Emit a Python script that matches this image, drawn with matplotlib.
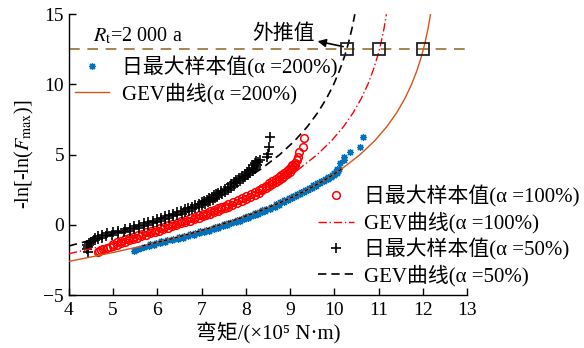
import matplotlib
matplotlib.use('Agg')
import matplotlib.pyplot as plt
import numpy as np

plt.rcParams['font.family'] = ['Liberation Serif', 'Noto Sans CJK SC', 'DejaVu Sans']
plt.rcParams['mathtext.fontset'] = 'stix'
plt.rcParams['axes.unicode_minus'] = True

# daily maximum bending moment samples (x 1e5 N*m) vs reduced variate -ln(-ln F)
moment_50 = [4.43, 4.41, 4.44, 4.42, 4.46, 4.50, 4.55,
             4.59, 4.66, 4.74, 4.84, 4.98, 5.10, 5.24, 5.37, 5.48, 5.58,
             5.69, 5.79, 5.89, 5.99, 6.08, 6.17, 6.26, 6.36, 6.45, 6.55,
             6.63, 6.71, 6.79, 6.86, 6.94, 7.01, 7.08, 7.14, 7.19, 7.25,
             7.30, 7.35, 7.40, 7.45, 7.53, 7.60, 7.67, 7.74, 7.80, 7.86,
             7.93, 7.99, 8.05, 8.10, 8.15, 8.20, 8.23, 8.26, 8.28,
             8.31, 8.47, 8.51, 8.53, 8.55,
             4.58, 4.65, 4.74, 4.86, 4.99, 5.12, 5.26, 5.38, 5.48, 5.59,
             5.69, 5.79, 5.89, 5.99, 6.08, 6.17, 6.26, 6.36, 6.45, 6.54,
             6.62, 6.70, 6.78, 6.85, 6.93, 7.00, 7.06, 7.12, 7.17, 7.23,
             7.28, 7.33, 7.38, 7.44, 7.52, 7.59, 7.66, 7.72, 7.78, 7.85,
             7.91, 7.97, 8.03, 8.08, 8.13, 8.17, 8.20, 8.22]
reduced_50 = [-1.90, -1.70, -1.55, -1.40, -1.30, -1.20, -1.12,
              -1.10, -1.00, -0.90, -0.80, -0.70, -0.60, -0.50, -0.40, -0.30, -0.20,
              -0.10, 0.00, 0.10, 0.20, 0.30, 0.40, 0.50, 0.60, 0.70, 0.80,
              0.90, 1.00, 1.10, 1.20, 1.30, 1.40, 1.50, 1.60, 1.70, 1.80,
              1.90, 2.00, 2.10, 2.20, 2.35, 2.50, 2.65, 2.80, 2.95, 3.10,
              3.25, 3.40, 3.55, 3.70, 3.85, 4.00, 4.15, 4.30, 4.45,
              4.62, 4.85, 5.02, 5.57, 6.28,
              -0.90, -0.80, -0.70, -0.60, -0.50, -0.40, -0.30, -0.20, -0.10, 0.00,
              0.10, 0.20, 0.30, 0.40, 0.50, 0.60, 0.70, 0.80, 0.90, 1.00,
              1.10, 1.20, 1.30, 1.40, 1.50, 1.60, 1.70, 1.80, 1.90, 2.00,
              2.10, 2.20, 2.30, 2.43, 2.58, 2.73, 2.88, 3.03, 3.18, 3.33,
              3.48, 3.63, 3.78, 3.93, 4.08, 4.23, 4.38, 4.53]

moment_100 = [4.65, 4.68, 4.72, 4.78, 4.85, 4.92,
              5.00, 5.08, 5.17, 5.26, 5.35, 5.44, 5.54, 5.64, 5.74, 5.84,
              5.94, 6.04, 6.13, 6.23, 6.33, 6.43, 6.53, 6.63, 6.73, 6.83,
              6.93, 7.02, 7.10, 7.19, 7.27, 7.36, 7.44, 7.52, 7.60, 7.68,
              7.79, 7.90, 8.00, 8.10, 8.20, 8.29, 8.37, 8.45, 8.53, 8.60,
              8.67, 8.74, 8.81, 8.87, 8.93, 8.99, 9.04, 9.08, 9.10,
              9.11, 9.15, 9.17, 9.19, 9.29, 9.32,
              5.00, 5.09, 5.18, 5.27, 5.36, 5.45, 5.55, 5.65, 5.75, 5.85,
              5.95, 6.05, 6.14, 6.24, 6.34, 6.44, 6.54, 6.64, 6.74, 6.84,
              6.94, 7.02, 7.11, 7.19, 7.28, 7.36, 7.44, 7.52, 7.60, 7.70,
              7.81, 7.91, 8.01, 8.11, 8.21, 8.29, 8.37, 8.45, 8.53, 8.60,
              8.67, 8.74, 8.80, 8.86, 8.92, 8.98, 9.02, 9.05]
reduced_100 = [-1.95, -1.85, -1.78, -1.72, -1.65, -1.58,
               -1.50, -1.40, -1.30, -1.20, -1.10, -1.00, -0.90, -0.80, -0.70, -0.60,
               -0.50, -0.40, -0.30, -0.20, -0.10, 0.00, 0.10, 0.20, 0.30, 0.40,
               0.50, 0.60, 0.70, 0.80, 0.90, 1.00, 1.10, 1.20, 1.30, 1.40,
               1.55, 1.70, 1.85, 2.00, 2.15, 2.30, 2.45, 2.60, 2.75, 2.90,
               3.05, 3.20, 3.35, 3.50, 3.65, 3.80, 3.95, 4.10, 4.25,
               4.40, 4.62, 4.85, 5.17, 5.52, 6.21,
               -1.33, -1.23, -1.13, -1.03, -0.93, -0.83, -0.73, -0.63, -0.53, -0.43,
               -0.33, -0.23, -0.13, -0.03, 0.07, 0.17, 0.27, 0.37, 0.47, 0.57,
               0.67, 0.77, 0.87, 0.97, 1.07, 1.17, 1.27, 1.37, 1.47, 1.60,
               1.75, 1.90, 2.05, 2.20, 2.35, 2.50, 2.65, 2.80, 2.95, 3.10,
               3.25, 3.40, 3.55, 3.70, 3.85, 4.00, 4.15, 4.30]

moment_200 = [5.46, 5.50, 5.55, 5.62, 5.70,
              5.80, 5.92, 6.05, 6.18, 6.32, 6.46, 6.58, 6.70, 6.82, 6.94,
              7.06, 7.17, 7.28, 7.38, 7.48, 7.58, 7.67, 7.77, 7.86, 7.95,
              8.04, 8.12, 8.20, 8.28, 8.36, 8.43, 8.54, 8.65, 8.75, 8.85,
              8.95, 9.04, 9.13, 9.22, 9.31, 9.40, 9.49, 9.58, 9.67, 9.76,
              9.85, 9.93, 10.00, 10.05, 10.08, 10.10,
              10.13, 10.21, 10.21, 10.36, 10.57, 10.64,
              5.83, 5.96, 6.09, 6.22, 6.36, 6.49, 6.61, 6.73, 6.85, 6.97,
              7.09, 7.20, 7.30, 7.40, 7.50, 7.60, 7.69, 7.79, 7.88, 7.97,
              8.05, 8.13, 8.21, 8.29, 8.37, 8.46, 8.57, 8.67, 8.77, 8.87,
              8.97, 9.06, 9.15, 9.24, 9.33, 9.42, 9.51, 9.60, 9.69, 9.78,
              9.86, 9.94, 10.00, 10.04, 10.06]
reduced_200 = [-1.85, -1.78, -1.72, -1.66, -1.60,
               -1.50, -1.40, -1.30, -1.20, -1.10, -1.00, -0.90, -0.80, -0.70, -0.60,
               -0.50, -0.40, -0.30, -0.20, -0.10, 0.00, 0.10, 0.20, 0.30, 0.40,
               0.50, 0.60, 0.70, 0.80, 0.90, 1.00, 1.15, 1.30, 1.45, 1.60,
               1.75, 1.90, 2.05, 2.20, 2.35, 2.50, 2.65, 2.80, 2.95, 3.10,
               3.25, 3.40, 3.55, 3.70, 3.85, 4.00,
               4.38, 4.62, 4.85, 5.17, 5.57, 6.28,
               -1.37, -1.27, -1.17, -1.07, -0.97, -0.87, -0.77, -0.67, -0.57, -0.47,
               -0.37, -0.27, -0.17, -0.07, 0.03, 0.13, 0.23, 0.33, 0.43, 0.53,
               0.63, 0.73, 0.83, 0.93, 1.03, 1.16, 1.31, 1.46, 1.61, 1.76,
               1.91, 2.06, 2.21, 2.36, 2.51, 2.66, 2.81, 2.96, 3.11, 3.26,
               3.41, 3.56, 3.71, 3.86, 4.01]

# fitted GEV curves
gev_y_50 = [-1.5, -1.0, -0.5, 0, 0.5, 1, 1.5, 2, 2.5, 3, 3.5, 4, 5, 6, 7, 8,
            9, 10, 11, 12, 12.5, 13, 14, 15]
gev_x_50 = [4.000, 4.604, 5.155, 5.656, 6.113, 6.528, 6.907, 7.252, 7.566,
            7.852, 8.112, 8.349, 8.762, 9.105, 9.389, 9.624, 9.820, 9.982,
            10.116, 10.228, 10.276, 10.320, 10.397, 10.461]
gev_y_100 = [-2.05, -1.5, -1, -0.5, 0, 0.5, 1, 1.5, 2, 2.5, 3, 3.5, 4, 5, 6,
             7, 8, 9, 10, 11, 12, 12.5, 13, 14, 15]
gev_x_100 = [4.001, 4.774, 5.407, 5.979, 6.497, 6.965, 7.389, 7.773, 8.120,
             8.434, 8.718, 8.975, 9.208, 9.609, 9.937, 10.206, 10.426, 10.606,
             10.754, 10.874, 10.973, 11.016, 11.054, 11.121, 11.175]
gev_y_200 = [-2.6, -2, -1.5, -1, -0.5, 0, 0.5, 1, 1.5, 2, 2.5, 3, 3.5, 4, 5,
             6, 7, 8, 9, 10, 11, 12, 12.5, 13, 14, 15]
gev_x_200 = [3.997, 4.949, 5.660, 6.303, 6.886, 7.412, 7.889, 8.320, 8.710,
             9.063, 9.383, 9.672, 9.933, 10.170, 10.578, 10.912, 11.185,
             11.409, 11.592, 11.742, 11.865, 11.966, 12.009, 12.048, 12.116,
             12.171]

# 2000-year return level and extrapolated moments
design_level = 12.5
extrap_x = [10.276, 11.016, 12.009]

fig = plt.figure(figsize=(5.84, 3.48), dpi=100)
ax = fig.add_axes([0.118, 0.152, 0.682, 0.807])

orange = '#D95319'
blue = '#0072BD'

ax.axhline(design_level, color='#8C6420', lw=1.1, dashes=(7, 5), zorder=1)

h_s200, = ax.plot(moment_200, reduced_200, ls='none', marker=(8, 2, 0),
                  ms=5, mew=0.9, color=blue, zorder=2)
h_g200, = ax.plot(gev_x_200, gev_y_200, color=orange, lw=1.0, zorder=3)
gx = np.array(gev_x_200)
gy = np.array(gev_y_200)
seg = (gx > 5.5) & (gx < 10.2)
ax.plot(gx[seg], gy[seg], color='k', lw=0.8, dashes=(3, 2), zorder=4)

h_s100, = ax.plot(moment_100, reduced_100, ls='none', marker='o', ms=5.5,
                  mfc='none', mew=1.1, color='red', zorder=2)
h_g100, = ax.plot(gev_x_100, gev_y_100, color='red', lw=1.0,
                  dashes=(6, 2, 1, 2), zorder=3)

h_s50, = ax.plot(moment_50, reduced_50, ls='none', marker='+', ms=7,
                 mew=1.2, color='k', zorder=2)
h_g50, = ax.plot(gev_x_50, gev_y_50, color='k', lw=1.2, dashes=(5, 3),
                 zorder=3)

ax.plot(extrap_x, [design_level] * len(extrap_x), ls='none', marker='s',
        ms=8, mfc='none', mec='#222222', mew=1.3, zorder=5)

ax.text(4.55, 13.45, r'$R_{\rm t}$=2 000 a', fontsize=14.5, va='center')
ax.text(8.85, 13.55, '外推值', fontsize=15, ha='center', va='center')
ax.annotate('', xy=(9.62, 13.08), xytext=(extrap_x[0] - 0.08, 12.7),
            arrowprops=dict(arrowstyle='-|>', color='k', lw=1.2,
                            mutation_scale=12, shrinkA=0, shrinkB=0))

ax.set_xlim(4, 13)
ax.set_ylim(-5, 15)
ax.set_xticks(range(4, 14))
ax.set_yticks([-5, 0, 5, 10, 15])
ax.tick_params(direction='in', length=5, width=1, labelsize=14)
ax.tick_params(axis='x', pad=5)
for side in ['top', 'right']:
    ax.spines[side].set_visible(False)
for side in ['left', 'bottom']:
    ax.spines[side].set_linewidth(1.0)

ax.set_xlabel('弯矩/(×10⁵ N·m)', fontsize=15, labelpad=2)
ax.set_ylabel(r'-ln[-ln($F_{\rm max}$)]', fontsize=14.5, labelpad=5)

leg1 = ax.legend([h_s200, h_g200],
                 ['日最大样本值(α =200%)', 'GEV曲线(α =200%)'],
                 loc='upper left', bbox_to_anchor=(0.015, 0.85),
                 frameon=False, fontsize=15, handlelength=1.65,
                 handletextpad=0.6, labelspacing=0.2, borderpad=0,
                 borderaxespad=0)
ax.add_artist(leg1)
ax.legend([h_s100, h_g100, h_s50, h_g50],
          ['日最大样本值(α =100%)', 'GEV曲线(α =100%)',
           '日最大样本值(α =50%)', 'GEV曲线(α =50%)'],
          loc='upper left', bbox_to_anchor=(0.625, 0.39),
          frameon=False, fontsize=15, handlelength=1.75,
          handletextpad=0.45, labelspacing=0.22, borderpad=0,
          borderaxespad=0)

fig.savefig('out.png', dpi=100)
